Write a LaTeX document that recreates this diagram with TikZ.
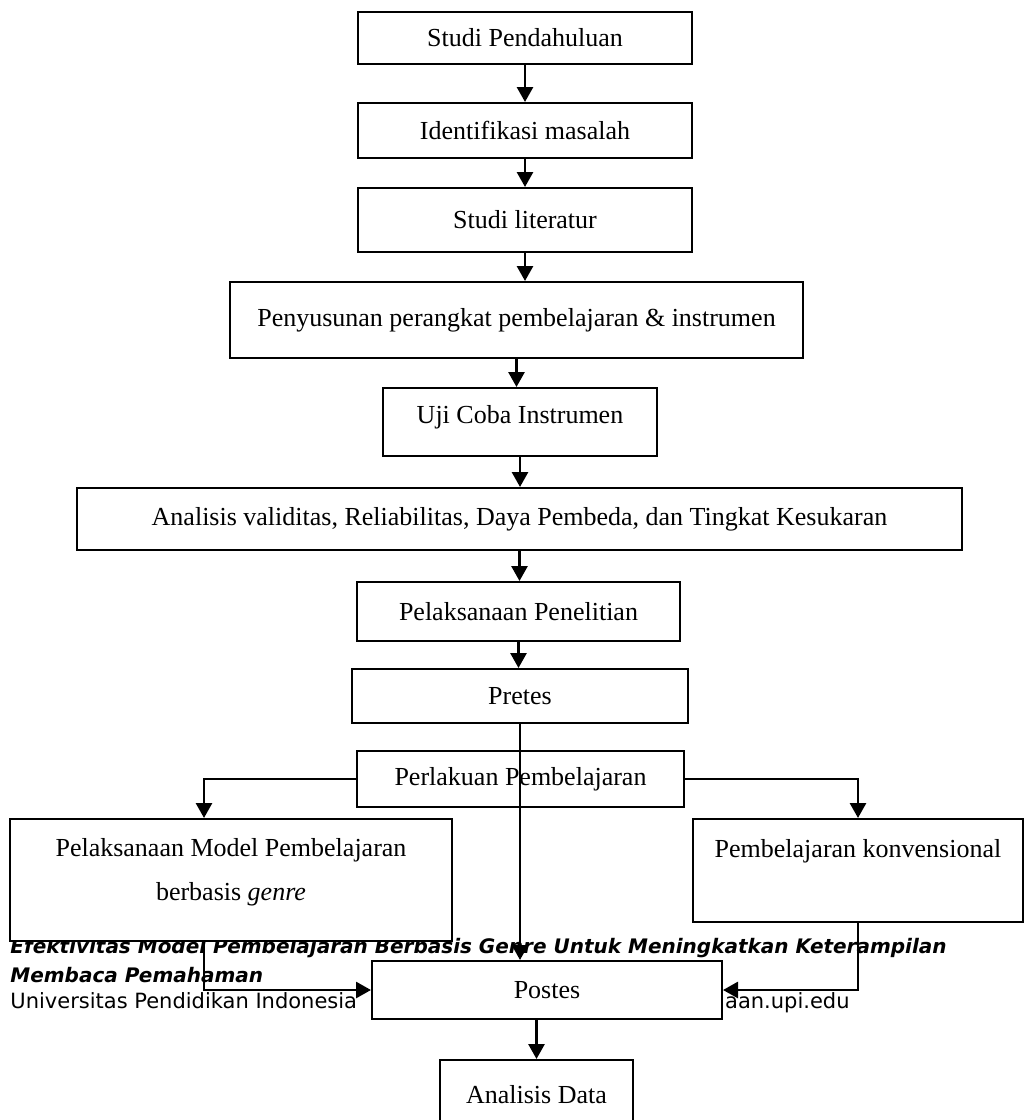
\documentclass[tikz,border=0pt]{standalone}
\usepackage{fontspec}
\setmainfont{Liberation Serif}
\newfontfamily\footfont{DejaVu Sans}
\usetikzlibrary{arrows.meta}

\begin{document}
\begin{tikzpicture}[x=0.5pt, y=-0.5pt, >={Triangle[width=8pt,length=7.5pt]},
  box/.style={draw, line width=1pt, fill=white, inner sep=0pt, align=center, font=\fontsize{13}{15.6}\selectfont},
  foot/.style={inner sep=0pt, font=\footfont\fontsize{10.5}{12.6}\selectfont},
  footbf/.style={foot, font=\footfont\fontsize{10}{12}\selectfont\bfseries\itshape},
  link/.style={line width=1.4pt}]
\useasboundingbox (0,0) rectangle (1033,1120);
% Footer (partly hidden by the boxes)
\node[footbf, anchor=base west] (ftA) at (10,953) {Efektivitas Model Pembelajaran Berbasis Genre Untuk Meningkatkan Keterampilan};
\node[footbf, anchor=base west] (ftB) at (10,982) {Membaca Pemahaman};
\node[foot, anchor=base west] (ftC) at (10,1008) {Universitas Pendidikan Indonesia};
\node[foot, anchor=base east] (ftD) at (850,1008) {aan.upi.edu};
% Boxes
\node[box, minimum width=167pt, minimum height=26pt] (stud) at (525,38) {Studi Pendahuluan};
\node[box, minimum width=167pt, minimum height=27.5pt] (iden) at (525,130.5) {Identifikasi masalah};
\node[box, minimum width=167pt, minimum height=32pt] (lit) at (525,220) {Studi literatur};
\node[box, minimum width=286.5pt, minimum height=38pt] (susun) at (516.5,320) {Penyusunan perangkat pembelajaran \& instrumen};
\node[box, minimum width=137pt, minimum height=34pt, text height=9pt, text depth=8pt] (uji) at (520,422) {Uji Coba Instrumen};
\node[box, minimum width=442.5pt, minimum height=31pt] (anal) at (519.5,519) {Analisis validitas, Reliabilitas, Daya Pembeda, dan Tingkat Kesukaran};
\node[box, minimum width=161.5pt, minimum height=29.5pt] (laks) at (518.5,611.5) {Pelaksanaan Penelitian};
\node[box, minimum width=168pt, minimum height=27pt] (pre) at (520,696) {Pretes};
\node[box, minimum width=163.5pt, minimum height=28pt] (perl) at (520.5,779) {Perlakuan Pembelajaran};
\node[box, minimum width=221pt, minimum height=61pt, text depth=11pt] (model) at (231,880) {Pelaksanaan Model Pembelajaran\\[6.4pt] berbasis \textit{genre}};
\node[box, minimum width=165pt, minimum height=51.5pt, text height=9pt, text depth=22pt] (konv) at (858,870.5) {Pembelajaran konvensional};
\node[box, minimum width=175pt, minimum height=29pt] (post) at (547,990) {Postes};
\node[box, minimum width=96.5pt, minimum height=35pt] (data) at (536.5,1095) {Analisis Data};
% Arrows
\foreach \a/\b in {stud/iden, iden/lit, lit/susun, susun/uji, uji/anal, anal/laks, laks/pre}
  \draw[link,->] (\a.south) -- (\a.south |- \b.north);
\draw[link,->] (pre.south) -- (pre.south |- post.north);
\coordinate (lx) at (204,0);
\draw[link,->] (perl.west) -| (lx |- model.north);
\draw[link,->] (perl.east) -| (konv.north);
\draw[link,->] (lx |- model.south) |- (post.west);
\draw[link,->] (konv.south) |- (post.east);
\draw[link,->] (post.south -| data.north) -- (data.north);
\end{tikzpicture}
\end{document}
